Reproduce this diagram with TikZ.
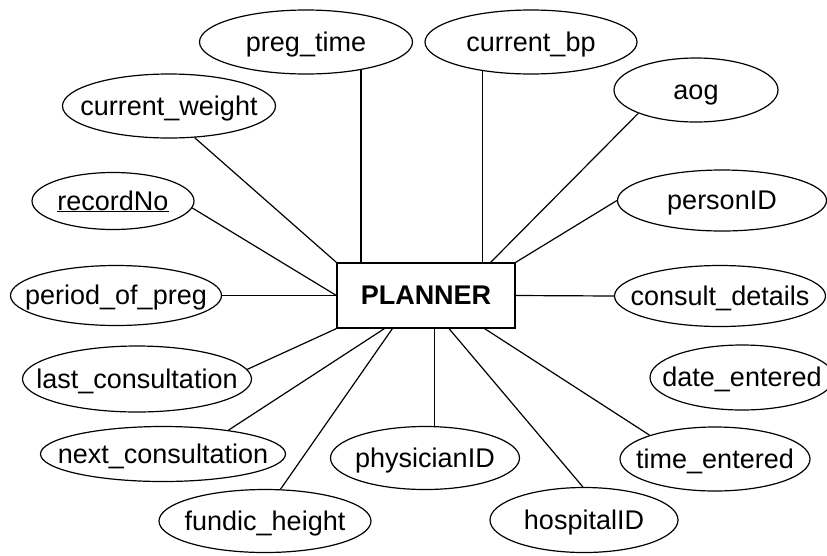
\documentclass[tikz,border=0pt]{standalone}
\usepackage{fontspec}
\setmainfont{Liberation Sans}
\usetikzlibrary{shapes.geometric}

\newcommand{\attrname}[1]{\makebox[0pt]{#1}}

\begin{document}
\begin{tikzpicture}[x=1pt, y=-1pt, draw, black, line width=1.2pt,
  attr/.style = {ellipse, draw, inner sep=0pt, text height=20pt, text depth=2pt, font=\fontsize{27}{30}\selectfont},
  entity/.style = {rectangle, draw, minimum width=178pt, minimum height=65pt, font=\fontsize{27}{30}\selectfont\bfseries}]
  \useasboundingbox (0, 0) rectangle (827, 555);

  \node[entity] (planner) at (426, 295.5) {PLANNER};

  \node[attr, minimum width=213pt, minimum height=64pt] (pregtime) at (306, 42) {\attrname{preg\_time}};
  \node[attr, minimum width=212pt, minimum height=64pt] (currentbp) at (531, 42) {\attrname{current\_bp}};
  \node[attr, minimum width=213pt, minimum height=64pt] (currentweight) at (169, 106) {\attrname{current\_weight}};
  \node[attr, minimum width=164pt, minimum height=64pt] (aog) at (696, 90) {\attrname{aog}};
  \node[attr, minimum width=162pt, minimum height=57pt] (recordno) at (113, 201) {\attrname{\underline{recordNo}}};
  \node[attr, minimum width=209pt, minimum height=61pt] (personid) at (722, 200.5) {\attrname{personID}};
  \node[attr, minimum width=211pt, minimum height=60pt] (periodpreg) at (116, 295.5) {\attrname{period\_of\_preg}};
  \node[attr, minimum width=211pt, minimum height=61pt] (consult) at (720, 296) {\attrname{consult\_details}};
  \node[attr, minimum width=229pt, minimum height=66pt] (lastconsult) at (137, 379) {\attrname{last\_consultation}};
  \node[attr, minimum width=184pt, minimum height=65pt] (dateentered) at (742, 377.5) {\attrname{date\_entered}};
  \node[attr, minimum width=245pt, minimum height=55pt] (nextconsult) at (163, 454) {\attrname{next\_consultation}};
  \node[attr, minimum width=189pt, minimum height=63pt] (physician) at (425, 458) {\attrname{physicianID}};
  \node[attr, minimum width=190pt, minimum height=64pt] (timeentered) at (715, 459) {\attrname{time\_entered}};
  \node[attr, minimum width=212pt, minimum height=63pt] (fundic) at (265, 521) {\attrname{fundic\_height}};
  \node[attr, minimum width=188pt, minimum height=65pt] (hospital) at (584, 520) {\attrname{hospitalID}};

  \draw (pregtime.-27) -- (pregtime.-27 |- planner.north);
  \draw (currentbp.-149) -- (currentbp.-149 |- planner.north);
  \draw (currentweight.-51) -- (planner.north west);
  \draw (recordno.-5) -- (planner.west);
  \draw (periodpreg) -- (planner);
  \draw (aog.-158) -- ([xshift=-25pt]planner.north east);
  \draw (personid.west) -- (planner.north east);
  \draw (planner.east) -- (consult.west);
  \draw (lastconsult.5) -- (planner.south west);
  \draw (nextconsult.20) -- ([xshift=48pt]planner.south west);
  \draw (fundic.64) -- ([xshift=56pt]planner.south west);
  \draw (physician.74) -- (physician.74 |- planner.south);
  \draw (hospital.92) -- ([xshift=23pt]planner.south);
  \draw (timeentered.160) -- ([xshift=-31pt]planner.south east);
\end{tikzpicture}
\end{document}
